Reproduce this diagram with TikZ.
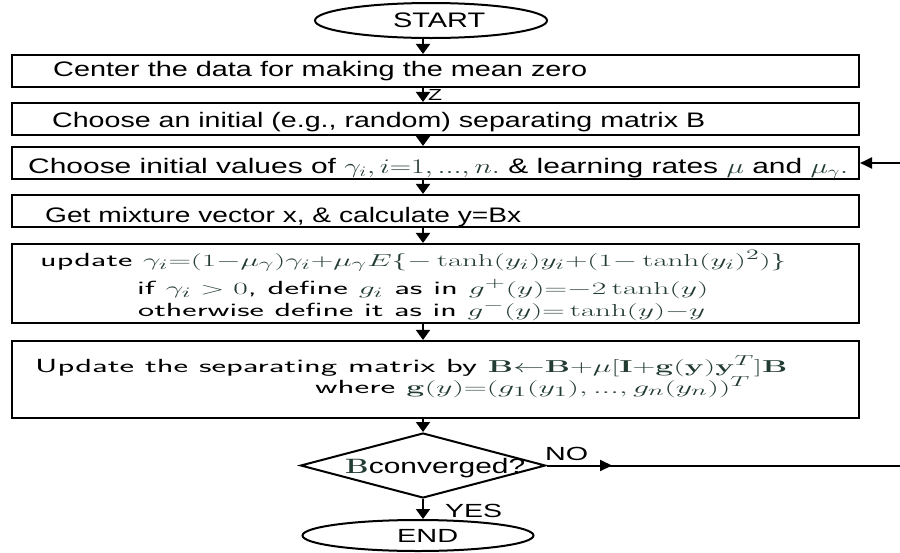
\documentclass[tikz,border=0pt]{standalone}
\usepackage[no-math]{fontspec}
\setmainfont{Liberation Sans}
\usepackage{graphicx}
\usetikzlibrary{arrows.meta,shapes.geometric}
\definecolor{mathc}{RGB}{35,60,50}
\newcommand{\fitw}[2]{\resizebox{#1}{\height}{#2}}
\newcommand{\mth}[1]{\textcolor{mathc}{$#1$}}
\begin{document}
\begin{tikzpicture}[x=1pt,y=-1pt,
  box/.style={draw, line width=2.1pt, minimum width=847pt, inner sep=0},
  term/.style={draw, ellipse, line width=2pt, inner sep=0},
  txt/.style={inner sep=0, anchor=base west, font=\fontsize{21}{25}\selectfont},
  stxt/.style={inner sep=0, anchor=base west, font=\fontsize{19}{22}\sffamily},
  ltxt/.style={inner sep=0, anchor=base west, font=\fontsize{19}{23}\selectfont},
  arr/.style={line width=2pt, -{Triangle[width=14pt,length=10pt]}},
  arrs/.style={line width=2pt, -{Triangle[width=11pt,length=12pt]}},
  conn/.style={line width=2pt}]
\useasboundingbox (0,0) rectangle (900,552);
% shapes
\node[term, minimum width=232pt, minimum height=35pt] (start) at (431,20.5) {};
\node[box, minimum height=32pt] (b1) at (435.5,71) {};
\node[box, minimum height=32pt] (b2) at (435.5,119) {};
\node[box, minimum height=32pt] (b3) at (435.5,163) {};
\node[box, minimum height=32pt] (b4) at (435.5,211) {};
\node[box, minimum height=79pt] (b5) at (435.5,283.5) {};
\node[box, minimum height=77pt] (b6) at (435.5,379.5) {};
\node[draw, diamond, line width=2pt, inner sep=0, minimum width=245pt, minimum height=65pt] (d) at (423,465.5) {};
\node[term, minimum width=231pt, minimum height=31pt] (end) at (418,535.5) {};
% texts
\node[txt] (tstart) at (393,27) {\fitw{92pt}{START}};
\node[txt] (t1) at (53,76.5) {\fitw{534pt}{Center the data for making the mean zero}};
\node[txt, font=\fontsize{16}{18}\selectfont] (tz) at (428,100) {\fitw{14pt}{Z}};
\node[txt] (t2) at (52,127) {\fitw{653pt}{Choose an initial (e.g., random) separating matrix B}};
\node[txt] (t3) at (28,173) {\fitw{820pt}{Choose initial values of \mth{\gamma_i, i{=}1, ..., n.} \& learning rates \mth{\mu} and \mth{\mu_\gamma.}}};
\node[txt] (t4) at (45,222) {\fitw{476pt}{Get mixture vector x, \& calculate y=Bx}};
\node[stxt] (t5a) at (40,266) {\fitw{746pt}{update \mth{\gamma_i{=}(1{-}\mu_\gamma)\gamma_i{+}\mu_\gamma E\{-\tanh(y_i)y_i{+}(1{-}\tanh(y_i)^2)\}}}};
\node[stxt] (t5b) at (137,294) {\fitw{571pt}{if \mth{\gamma_i > 0}, define \mth{g_i} as in \mth{g^{+}(y){=}{-}2\tanh(y)}}};
\node[stxt] (t5c) at (138,316) {\fitw{567pt}{otherwise define it as in \mth{g^{-}(y){=}\tanh(y){-}y}}};
\node[stxt] (t6a) at (35,372) {\fitw{752pt}{Update the separating matrix by \mth{\mathbf{B}{\leftarrow}\mathbf{B}{+}\mu[\mathbf{I}{+}\mathbf{g}(\mathbf{y})\mathbf{y}^T]\mathbf{B}}}};
\node[stxt] (t6b) at (315,393) {\fitw{435pt}{where \mth{\mathbf{g}(y){=}(g_1(y_1), ..., g_n(y_n))^T}}};
\node[txt] (td) at (345,473) {\fitw{180pt}{\mth{\mathbf{B}}converged?}};
\node[ltxt] (tno) at (545,460) {\fitw{43pt}{NO}};
\node[ltxt] (tyes) at (445,517) {\fitw{57pt}{YES}};
\node[ltxt] (tend) at (397,542) {\fitw{61pt}{END}};
% connectors
\coordinate (ax) at (423,0);
\coordinate (r1) at (900,163);
\coordinate (r2) at (900,465.5);
\coordinate (nomid) at (612,465.5);
\draw[arr] (ax |- start.south) -- (ax |- b1.north);
\draw[arr] (ax |- b1.south) -- (ax |- b2.north);
\draw[arr] (ax |- b2.south) -- (ax |- b3.north);
\draw[arr] (ax |- b3.south) -- (ax |- b4.north);
\draw[arr] (ax |- b4.south) -- (ax |- b5.north);
\draw[arr] (ax |- b5.south) -- (ax |- b6.north);
\draw[arr] (ax |- b6.south) -- (d.north);
\draw[arr] (d.south) -- (d.south |- end.north);
\draw[conn] (d.east) -- (r2);
\draw[arrs] (d.east) -- (nomid);
\draw[arrs] (r1) -- (b3.east);
\end{tikzpicture}
\end{document}
